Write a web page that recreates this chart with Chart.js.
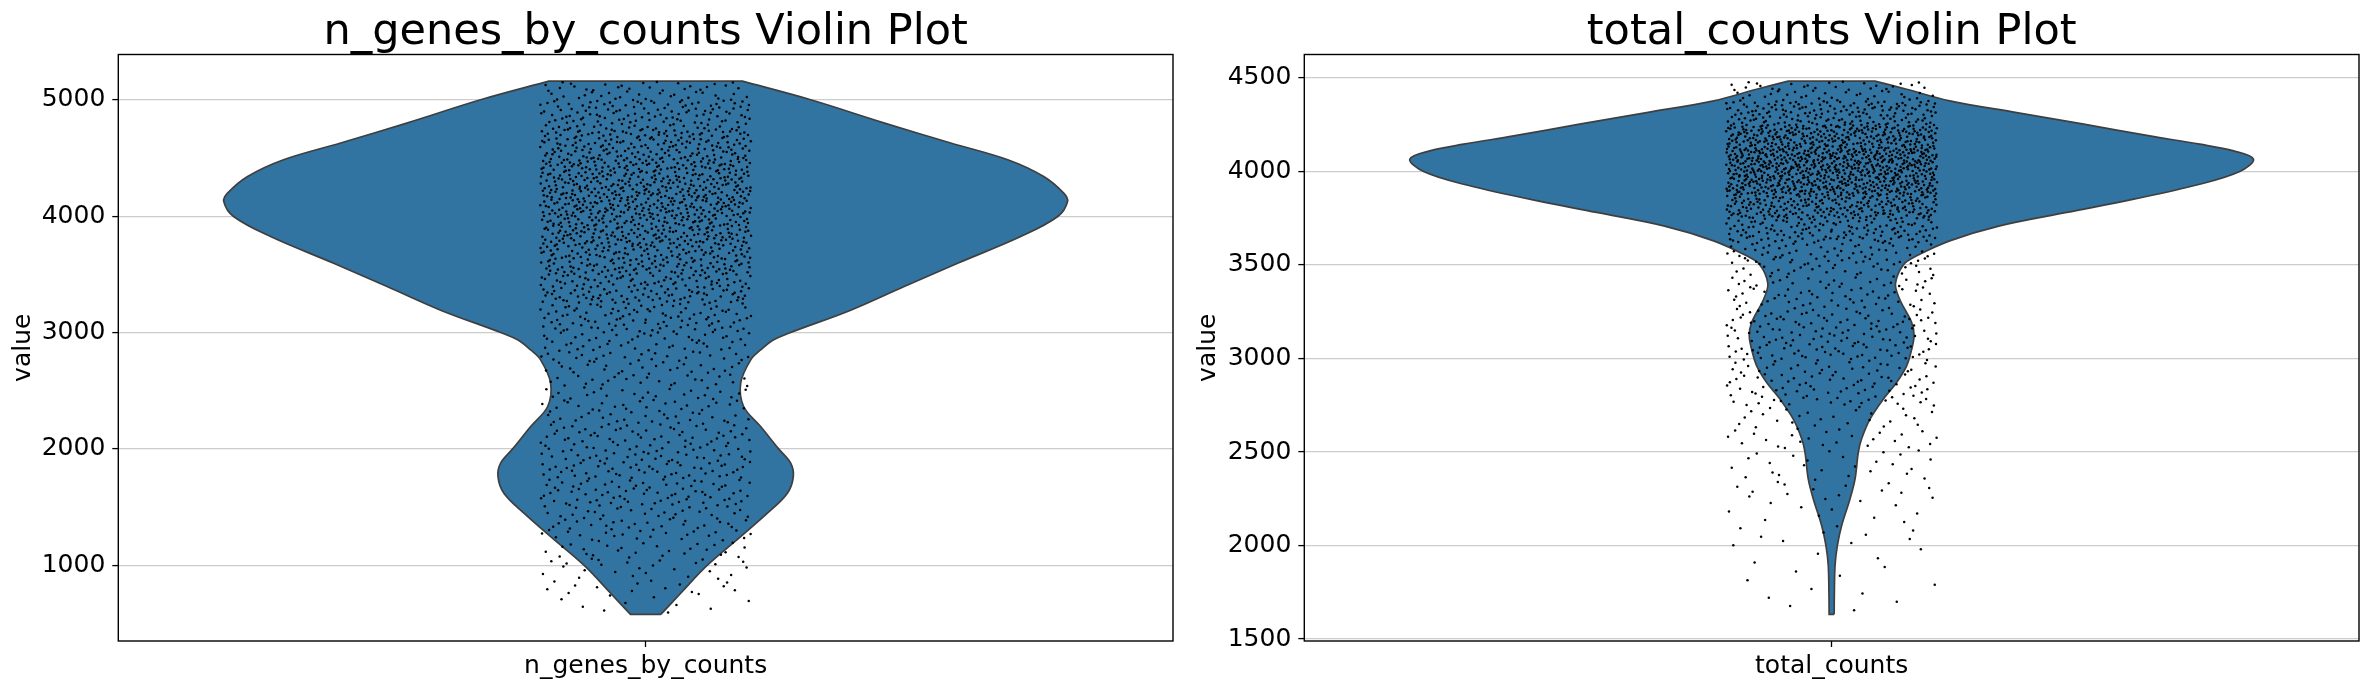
<!DOCTYPE html>
<html>
<head>
<meta charset="utf-8">
<script src="https://cdn.jsdelivr.net/npm/chart.js@4.4.0/dist/chart.umd.min.js"></script>
<style>
html,body{margin:0;padding:0;background:#fff;}
#wrap{position:relative;width:2371px;height:690px;background:#fff;}
.panel{position:absolute;top:0;height:690px;}
</style>
</head>
<body>
<div id="wrap">
  <div class="panel" style="left:0;width:1185px"><canvas id="c1" width="1185" height="690"></canvas></div>
  <div class="panel" style="left:1185px;width:1186px"><canvas id="c2" width="1186" height="690"></canvas></div>
</div>
<script>
// ---------------- DATA ----------------
const categories = ['n_genes_by_counts', 'total_counts'];
const titles = ['n_genes_by_counts Violin Plot', 'total_counts Violin Plot'];
const yAxisLabel = 'value';

// violin outline: value and half width (in category units) for n_genes_by_counts
const genesOutlineValues = [578, 759, 1000, 1246, 1447, 1619, 1762, 1877, 2000, 2192, 2364, 2565, 2765, 2850, 2937, 3000, 3192, 3393, 3595, 3825, 3997, 4126, 4198, 4341, 4485, 4629, 4802, 5000, 5160];
const genesOutlineHalfWidth = [0.0144, 0.0332, 0.0585, 0.0901, 0.1154, 0.1344, 0.1400, 0.1375, 0.1261, 0.1090, 0.0929, 0.0901, 0.0996, 0.1090, 0.1214, 0.1375, 0.1944, 0.2446, 0.2958, 0.3556, 0.3907, 0.4000, 0.3964, 0.3774, 0.3433, 0.2892, 0.2257, 0.1565, 0.0917];

// violin outline for total_counts
const countsOutlineValues = [1632, 1716, 1893, 2000, 2107, 2249, 2356, 2500, 2571, 2676, 2783, 2872, 2961, 3050, 3121, 3192, 3317, 3400, 3503, 3549, 3629, 3709, 3781, 3852, 3932, 4000, 4066, 4110, 4146, 4190, 4253, 4315, 4378, 4440, 4483];
const countsOutlineHalfWidth = [0.0024, 0.0025, 0.0032, 0.0054, 0.0095, 0.0174, 0.0222, 0.0253, 0.0284, 0.0364, 0.0490, 0.0616, 0.0711, 0.0759, 0.0781, 0.0759, 0.0645, 0.0605, 0.0683, 0.0806, 0.1119, 0.1593, 0.2228, 0.2864, 0.3490, 0.3869, 0.4000, 0.3812, 0.3490, 0.3015, 0.2390, 0.1754, 0.1119, 0.0711, 0.0412];

// jittered cells: number of dots per value band
const genesPointBinEdges = [578, 750, 1000, 1250, 1500, 1750, 2000, 2250, 2500, 2750, 3000, 3250, 3500, 3750, 4000, 4250, 4500, 4750, 5000, 5160];
const genesPointBinCounts = [10, 29, 46, 64, 83, 85, 74, 60, 58, 74, 104, 145, 184, 222, 246, 225, 181, 128, 49];
const countsPointBinEdges = [1632, 1750, 2000, 2250, 2500, 2750, 3000, 3250, 3500, 3625, 3750, 3875, 4000, 4125, 4250, 4375, 4483];
const countsPointBinCounts = [5, 10, 21, 37, 55, 109, 135, 113, 76, 135, 222, 315, 346, 277, 155, 58];

// tick labels
const genesYTicks = [1000, 2000, 3000, 4000, 5000];
const countsYTicks = [1500, 2000, 2500, 3000, 3500, 4000, 4500];

// ---------------- STYLE ----------------
const FONT = '"DejaVu Sans", "Liberation Sans", sans-serif';
const TICK_SIZE = 25;
const TITLE_SIZE = 43;
const VIOLIN_FILL = '#3274a1';
const VIOLIN_EDGE = '#3f3f3f';
const JITTER = 0.1;

function outlinePoints(vals, hws) {
  const n = vals.length;
  const right = vals.map((v, i) => ({x: hws[i], y: v}));
  const left = vals.map((v, i) => ({x: -hws[i], y: v})).reverse();
  // corner points repeated so the flat caps stay straight
  const pts = [right[0]];
  pts.push(...right);
  pts.push(right[n - 1]);
  pts.push(left[0]);
  pts.push(...left);
  pts.push(left[n - 1]);
  pts.push(right[0], right[0]);
  return pts;
}

// Halton low-discrepancy sequence (deterministic) used to lay out the strip jitter
function halton(i, b) {
  let f = 1, r = 0;
  while (i > 0) { f /= b; r += f * (i % b); i = Math.floor(i / b); }
  return r;
}

function jitterPoints(edges, counts) {
  const total = counts.reduce((s, c) => s + c, 0);
  const cum = [0];
  counts.forEach(c => cum.push(cum[cum.length - 1] + c));
  const pts = [];
  for (let k = 1; k <= total; k++) {
    const u = halton(k + 17, 2);
    const q = halton(k + 17, 3) * total;
    let i = 0;
    while (i < counts.length - 1 && cum[i + 1] <= q) i++;
    const f = (q - cum[i]) / counts[i];
    pts.push({x: -JITTER + 2 * JITTER * u, y: edges[i] + (edges[i + 1] - edges[i]) * f});
  }
  return pts;
}

const framePlugin = {
  id: 'frame',
  afterDraw(chart, args, opts) {
    const {ctx, chartArea: ca} = chart;
    ctx.save();
    ctx.strokeStyle = '#000';
    ctx.lineWidth = 1.4;
    ctx.strokeRect(ca.left, ca.top, ca.right - ca.left, ca.bottom - ca.top);
    ctx.fillStyle = '#000';
    ctx.font = TITLE_SIZE + 'px ' + FONT;
    ctx.textAlign = 'center';
    ctx.textBaseline = 'alphabetic';
    ctx.fillText(opts.text, (ca.left + ca.right) / 2, 43.5);
    ctx.restore();
  }
};

function makePanel(canvasId, idx, vals, hws, edges, counts, yTicks, yWidth, rightPad) {
  const vmin = Math.min(...vals), vmax = Math.max(...vals);
  const margin = 0.05 * (vmax - vmin);
  return new Chart(document.getElementById(canvasId), {
    type: 'scatter',
    data: {
      datasets: [
        {
          type: 'scatter',
          data: jitterPoints(edges, counts),
          pointRadius: 1.25,
          pointHoverRadius: 1.25,
          backgroundColor: '#000',
          borderWidth: 0,
          order: 0
        },
        {
          type: 'line',
          data: outlinePoints(vals, hws),
          borderColor: VIOLIN_EDGE,
          borderWidth: 1.7,
          backgroundColor: VIOLIN_FILL,
          fill: 'shape',
          tension: 0.35,
          pointRadius: 0,
          order: 1
        }
      ]
    },
    options: {
      responsive: false,
      animation: false,
      events: [],
      layout: {padding: {top: 54.5, right: rightPad, left: 0, bottom: 0}},
      plugins: {
        legend: {display: false},
        tooltip: {enabled: false},
        title: {display: false},
        frame: {text: titles[idx]}
      },
      scales: {
        x: {
          type: 'linear',
          min: -0.5,
          max: 0.5,
          afterBuildTicks: s => { s.ticks = [{value: 0}]; },
          afterFit: s => { s.height = 49; },
          ticks: {
            callback: () => categories[idx],
            font: {family: FONT, size: TICK_SIZE},
            color: '#000',
            padding: 4,
            maxRotation: 0,
            autoSkip: false
          },
          grid: {display: true, drawOnChartArea: false, drawTicks: true, tickLength: 6, tickColor: '#000', tickWidth: 1.3},
          border: {display: false}
        },
        y: {
          type: 'linear',
          min: vmin - margin,
          max: vmax + margin,
          z: 1,
          afterBuildTicks: s => { s.ticks = yTicks.map(v => ({value: v})); },
          afterFit: s => { s.width = yWidth; },
          ticks: {
            font: {family: FONT, size: TICK_SIZE},
            color: '#000',
            padding: 7,
            callback: v => String(v)
          },
          grid: {color: '#cccccc', lineWidth: 1.2, drawTicks: true, tickLength: 6, tickColor: '#000', tickWidth: 1.3},
          border: {display: false},
          title: {
            display: true,
            text: yAxisLabel,
            font: {family: FONT, size: TICK_SIZE},
            color: '#000',
            padding: {top: 8, bottom: 0}
          }
        }
      }
    },
    plugins: [framePlugin]
  });
}

makePanel('c1', 0, genesOutlineValues, genesOutlineHalfWidth, genesPointBinEdges, genesPointBinCounts, genesYTicks, 118.3, 12);
makePanel('c2', 1, countsOutlineValues, countsOutlineHalfWidth, countsPointBinEdges, countsPointBinCounts, countsYTicks, 119.3, 12);
</script>
</body>
</html>
